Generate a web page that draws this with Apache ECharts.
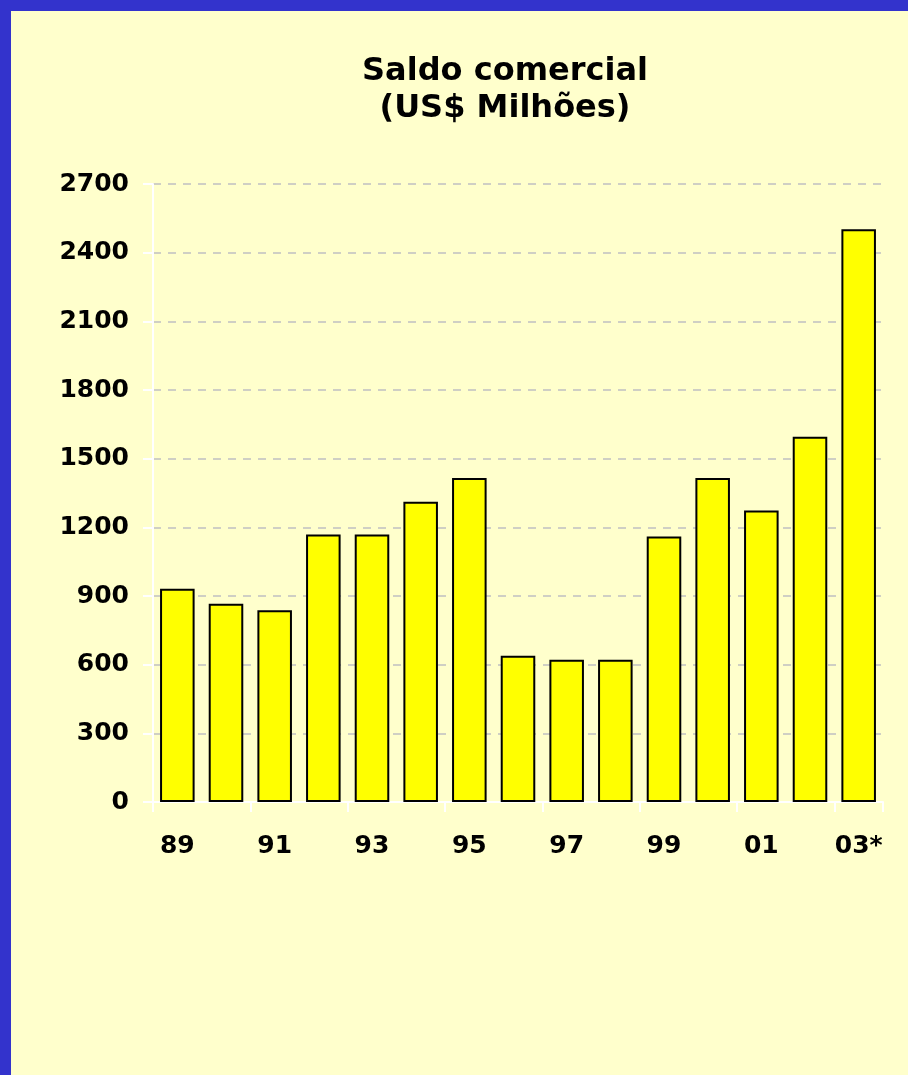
<!DOCTYPE html>
<html>
<head>
<meta charset="utf-8">
<script src="https://cdn.jsdelivr.net/npm/echarts@6/dist/echarts.min.js"></script>
<style>
  html, body { margin: 0; padding: 0; background: #3333cc; width: 908px; height: 1075px; overflow: hidden; }
  #chart { position: absolute; left: 11px; top: 11px; width: 897px; height: 1064px; }
</style>
</head>
<body>
<div id="chart"></div>
<script>
// Saldo comercial (US$ Milhões), 1989-2003
const years = ['89', '90', '91', '92', '93', '94', '95', '96', '97', '98', '99', '00', '01', '02', '03*'];
const saldo = [932, 866, 838, 1169, 1169, 1312, 1415, 639, 622, 622, 1160, 1415, 1274, 1596, 2502];
const yTicks = { min: 0, max: 2700, step: 300 };

const FONT = 'DejaVu Sans';

const chart = echarts.init(document.getElementById('chart'));
chart.setOption({
  backgroundColor: '#ffffcc',
  animation: false,
  title: {
    text: 'Saldo comercial\n(US$ Milhões)',
    left: 489, top: 37,
    textAlign: 'center',
    textStyle: { fontFamily: FONT, fontWeight: 'bold', fontSize: 32, color: '#000', lineHeight: 37 }
  },
  grid: { left: 142, right: 25, top: 173, bottom: 273 },
  xAxis: {
    type: 'category',
    data: years,
    axisLine: { lineStyle: { color: '#fff', width: 2 } },
    axisTick: { show: true, length: 10, lineStyle: { color: '#fff', width: 2 } },
    axisLabel: {
      interval: 1, margin: 32,
      fontFamily: FONT, fontWeight: 'bold', fontSize: 25, color: '#000'
    }
  },
  yAxis: {
    type: 'value',
    min: yTicks.min, max: yTicks.max, interval: yTicks.step,
    axisLine: { show: true, lineStyle: { color: '#fff', width: 2 } },
    axisTick: { show: true, length: 10, lineStyle: { color: '#fff', width: 2 } },
    axisLabel: {
      margin: 24, fontFamily: FONT, fontWeight: 'bold', fontSize: 25, color: '#000',
      formatter: v => String(v)
    },
    splitLine: { lineStyle: { color: '#cfcfc4', width: 2, type: [8, 7] } }
  },
  series: [{
    type: 'bar',
    data: saldo,
    barWidth: '71%',
    itemStyle: { color: '#ffff00', borderColor: '#000', borderWidth: 2 }
  }]
});
</script>
</body>
</html>
